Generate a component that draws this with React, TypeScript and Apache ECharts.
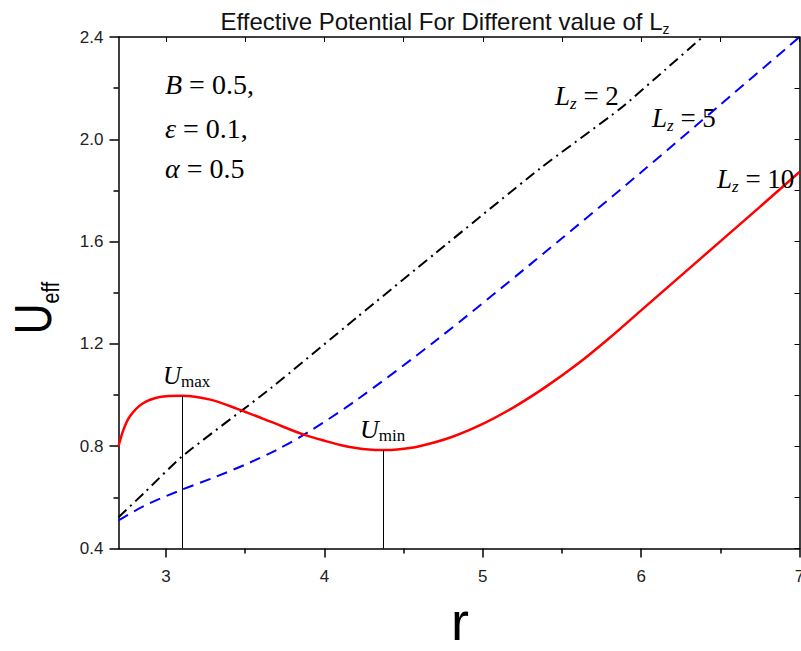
import React, { useEffect, useRef } from "react";
import * as echarts from "echarts";

// L_z = 10 (red, solid)
const rL10 = [2.70, 2.73, 2.77, 2.85, 2.96, 3.10, 3.28, 3.45, 3.66, 3.87, 4.02, 4.10, 4.20, 4.28, 4.37, 4.46, 4.60, 4.80, 5.00, 5.20, 5.40, 5.60, 5.80, 6.00, 6.25, 6.50, 6.75, 7.00];
const uL10 = [0.800, 0.862, 0.915, 0.966, 0.992, 0.997, 0.982, 0.946, 0.896, 0.845, 0.818, 0.805, 0.793, 0.787, 0.785, 0.787, 0.800, 0.835, 0.887, 0.954, 1.033, 1.122, 1.223, 1.331, 1.466, 1.601, 1.736, 1.872];
// L_z = 2 (black, dash-dot)
const rL2 = [2.70, 2.86, 3.10, 3.66, 4.20, 4.70, 5.36, 5.87, 6.15, 6.39, 6.50];
const uL2 = [0.522, 0.616, 0.759, 1.026, 1.301, 1.554, 1.885, 2.121, 2.271, 2.401, 2.460];
// L_z = 5 (blue, dashed)
const rL5 = [2.70, 2.86, 3.10, 3.30, 3.50, 3.70, 3.90, 4.20, 4.70, 5.30, 6.00, 6.50, 7.00];
const uL5 = [0.510, 0.566, 0.630, 0.677, 0.728, 0.786, 0.856, 0.979, 1.211, 1.511, 1.871, 2.135, 2.400];

// extrema of the L_z = 10 curve
const extremaR = [3.10, 4.37];
const extremaU = [0.997, 0.785];

// axes
const xMin = 2.7;
const xMax = 7;
const xMajor = [3, 4, 5, 6, 7];
const xMinor = [3.5, 4.5, 5.5, 6.5];
const xAll = [3, 3.5, 4, 4.5, 5, 5.5, 6, 6.5, 7];
const yMin = 0.4;
const yMax = 2.4;

const zip = (a: number[], b: number[]) => a.map((v, i) => [v, b[i]]);

const SERIF = "'Liberation Serif', 'Times New Roman', serif";
const SANS = "'Liberation Sans', Arial, sans-serif";

const mathRich = (size: number, sub: number) => ({
  i: { fontFamily: SERIF, fontStyle: "italic", fontSize: size, lineHeight: size + 4, fill: "#000" },
  n: { fontFamily: SERIF, fontSize: size, lineHeight: size + 4, fill: "#000" },
  si: { fontFamily: SERIF, fontStyle: "italic", fontSize: sub, lineHeight: sub, verticalAlign: "bottom", fill: "#000" },
  sn: { fontFamily: SERIF, fontSize: sub, lineHeight: sub, verticalAlign: "bottom", fill: "#000" },
});

const mathText = (text: string, x: number, y: number, size: number, sub: number) => ({
  type: "text",
  x,
  y,
  z: 100,
  style: {
    text,
    align: "left",
    verticalAlign: "middle",
    rich: mathRich(size, sub),
  },
});

export default function App() {
  const ref = useRef<HTMLDivElement>(null);

  useEffect(() => {
    document.body.style.margin = "0";
    if (!ref.current) return;
    const chart = echarts.init(ref.current, null, { renderer: "svg" });

    const axisLine = { show: true, lineStyle: { color: "#000", width: 1.5 } };

    chart.setOption({
      animation: false,
      backgroundColor: "#fff",
      grid: {
        left: 118.5,
        right: 1.5,
        top: 37,
        bottom: 102.5,
        containLabel: false,
        outerBoundsMode: "none",
      },
      xAxis: [
        {
          type: "value",
          position: "bottom",
          min: xMin,
          max: xMax,
          axisLine,
          splitLine: { show: false },
          axisTick: { show: true, inside: false, length: 9, customValues: xMajor, lineStyle: { color: "#000", width: 1.5 } },
          axisLabel: {
            show: true,
            customValues: xMajor,
            margin: 19,
            fontFamily: SANS,
            fontSize: 17,
            color: "#222",
            formatter: (v: number) => String(v),
          },
        },
        {
          type: "value",
          position: "bottom",
          min: xMin,
          max: xMax,
          axisLine: { show: false },
          splitLine: { show: false },
          axisTick: { show: true, inside: false, length: 5, customValues: xMinor, lineStyle: { color: "#000", width: 1.5 } },
          axisLabel: { show: false },
        },
        {
          type: "value",
          position: "top",
          min: xMin,
          max: xMax,
          axisLine,
          splitLine: { show: false },
          axisTick: { show: true, inside: true, length: 5, customValues: xAll, lineStyle: { color: "#000", width: 1 } },
          axisLabel: { show: false },
        },
      ],
      yAxis: [
        {
          type: "value",
          position: "left",
          min: yMin,
          max: yMax,
          interval: 0.4,
          axisLine,
          splitLine: { show: false },
          axisTick: { show: true, inside: false, length: 9, lineStyle: { color: "#000", width: 1.5 } },
          minorTick: { show: true, splitNumber: 2, length: 5, lineStyle: { color: "#000", width: 1.5 } },
          minorSplitLine: { show: false },
          axisLabel: {
            show: true,
            margin: 15,
            fontFamily: SANS,
            fontSize: 17,
            color: "#222",
            formatter: (v: number) => v.toFixed(1),
          },
        },
        {
          type: "value",
          position: "right",
          min: yMin,
          max: yMax,
          interval: 0.2,
          axisLine,
          splitLine: { show: false },
          axisTick: { show: true, inside: true, length: 5, lineStyle: { color: "#000", width: 1 } },
          axisLabel: { show: false },
        },
      ],
      series: [
        {
          name: "L_z = 2",
          type: "line",
          xAxisIndex: 0,
          yAxisIndex: 0,
          data: zip(rL2, uL2),
          showSymbol: false,
          smooth: 0.2,
          clip: true,
          lineStyle: { color: "#000", width: 2, type: [11, 5, 2, 5] },
        },
        {
          name: "L_z = 5",
          type: "line",
          xAxisIndex: 0,
          yAxisIndex: 0,
          data: zip(rL5, uL5),
          showSymbol: false,
          smooth: 0.3,
          clip: true,
          lineStyle: { color: "#0000ff", width: 2, type: [11, 7] },
        },
        {
          name: "L_z = 10",
          type: "line",
          xAxisIndex: 0,
          yAxisIndex: 0,
          data: zip(rL10, uL10),
          showSymbol: false,
          smooth: 0.3,
          clip: true,
          lineStyle: { color: "#ff0000", width: 2.5 },
          markLine: {
            silent: true,
            symbol: ["none", "none"],
            label: { show: false },
            lineStyle: { color: "#000", width: 1, type: "solid" },
            data: extremaR.map((r, i) => [
              { coord: [r, yMin] },
              { coord: [r, extremaU[i]] },
            ]),
          },
        },
      ],
      graphic: [
        {
          type: "text",
          x: 445,
          y: 21,
          style: {
            text: "Effective Potential For Different value of L{s|z}",
            fontFamily: SANS,
            fontSize: 24,
            lineHeight: 30,
            fill: "#111",
            align: "center",
            verticalAlign: "middle",
            rich: {
              s: { fontFamily: SANS, fontSize: 14, lineHeight: 14, verticalAlign: "bottom", fill: "#111" },
            },
          },
        },
        {
          type: "text",
          x: 33,
          y: 308,
          rotation: Math.PI / 2,
          scaleX: 0.82,
          style: {
            text: "{b|U}{s|eff}",
            align: "center",
            verticalAlign: "middle",
            rich: {
              b: { fontFamily: SANS, fontSize: 52, lineHeight: 60, fill: "#000" },
              s: { fontFamily: SANS, fontSize: 24, lineHeight: 24, verticalAlign: "bottom", fill: "#000" },
            },
          },
        },
        {
          type: "text",
          x: 460,
          y: 621,
          style: {
            text: "r",
            fontFamily: SANS,
            fontSize: 54,
            fill: "#000",
            align: "center",
            verticalAlign: "middle",
          },
        },
        mathText("{i|B}{n| = 0.5,}", 165, 84, 28, 18),
        mathText("{i|ε}{n| = 0.1,}", 165, 128, 28, 18),
        mathText("{i|α}{n| = 0.5}", 165, 168, 28, 18),
        mathText("{i|L}{si|z}{n| = 2}", 555, 96, 27, 17),
        mathText("{i|L}{si|z}{n| = 5}", 652, 118, 27, 17),
        mathText("{i|L}{si|z}{n| = 10}", 717, 179, 27, 17),
        mathText("{i|U}{sn|max}", 163, 375, 25, 17),
        mathText("{i|U}{sn|min}", 360, 429, 26, 17),
      ],
    });

    return () => chart.dispose();
  }, []);

  return <div ref={ref} style={{ width: 801, height: 651 }} />;
}
